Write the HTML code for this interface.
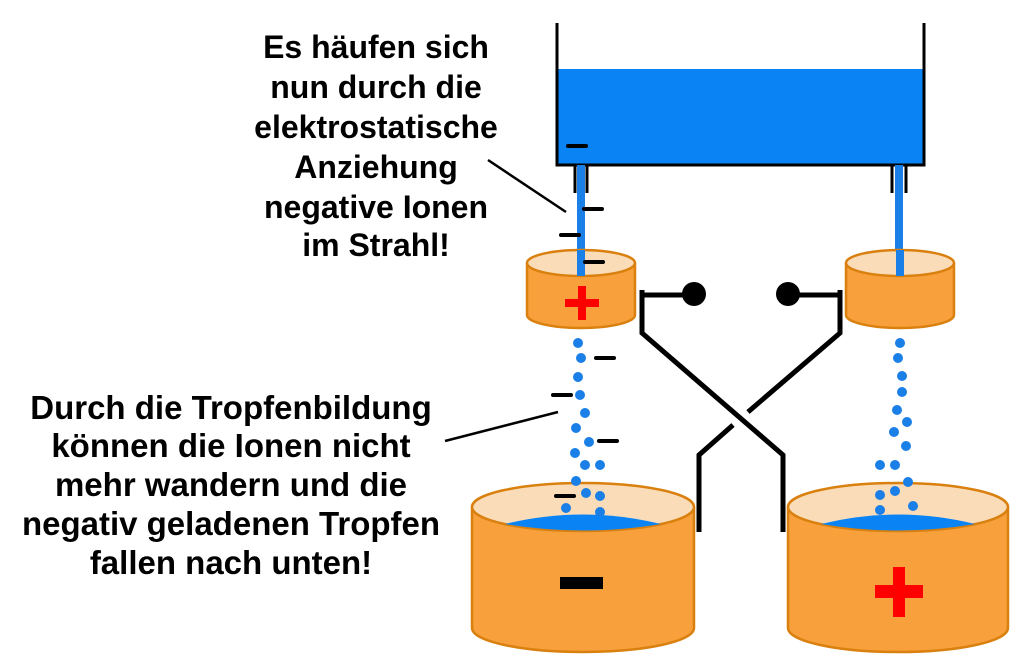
<!DOCTYPE html>
<html><head><meta charset="utf-8"><style>
html,body{margin:0;padding:0;background:#fff;}
svg{display:block}
text{font-family:"Liberation Sans",Arial,sans-serif;font-weight:bold;fill:#000;text-anchor:middle}
.t{font-size:32px}
.b{font-size:33px}
</style></head><body>
<svg width="1024" height="669" viewBox="0 0 1024 669">
<rect width="1024" height="669" fill="#fff"/>
<rect x="558" y="69" width="365" height="96" fill="#0a84f5"/>
<path d="M557 23 V165 H924 V23" fill="none" stroke="#000" stroke-width="3"/>
<line x1="575" y1="165" x2="575" y2="193" stroke="#000" stroke-width="3"/>
<line x1="587" y1="165" x2="587" y2="193" stroke="#000" stroke-width="3"/>
<line x1="892" y1="165" x2="892" y2="193" stroke="#000" stroke-width="3"/>
<line x1="906" y1="165" x2="906" y2="193" stroke="#000" stroke-width="3"/>
<rect x="577" y="165" width="8" height="112" fill="#1a7fe6"/>
<rect x="895" y="165" width="8" height="112" fill="#1a7fe6"/>
<g stroke="#d9800f" stroke-width="2.5">
<path d="M527 263 V315 A54 13 0 0 0 635 315 V263" fill="#f8a13c"/>
<ellipse cx="581" cy="263" rx="54" ry="13" fill="#fbdcb8"/>
<path d="M846 263 V315 A54 13 0 0 0 954 315 V263" fill="#f8a13c"/>
<ellipse cx="900" cy="263" rx="54" ry="13" fill="#fbdcb8"/>
</g>
<rect x="577" y="250" width="8" height="26" fill="#1a7fe6"/>
<rect x="896" y="250" width="8" height="26" fill="#1a7fe6"/>
<rect x="565" y="299" width="34" height="8" fill="#f00"/>
<rect x="578" y="286" width="8" height="34" fill="#f00"/>
<g fill="none" stroke="#000" stroke-width="5">
<path d="M642 290 V333 L783 455 V532"/>
<path d="M640 295 H693"/>
<path d="M840 290 V333 L748 412"/>
<path d="M733 425 L699 455 V532"/>
<path d="M841 295 H788"/>
</g>
<circle cx="694" cy="294" r="12"/>
<circle cx="788" cy="294" r="12"/>
<g stroke="#d9800f" stroke-width="2.5">
<path d="M472 507 V628 A111 24 0 0 0 694 628 V507" fill="#f8a13c"/>
<ellipse cx="583" cy="507" rx="111" ry="24" fill="#fbdcb8"/>
<path d="M788 507 V628 A110 24 0 0 0 1008 628 V507" fill="#f8a13c"/>
<ellipse cx="898" cy="507" rx="110" ry="24" fill="#fbdcb8"/>
</g>
<path d="M505 524 Q583 505 661 524 Q583 537 505 524Z" fill="#0a84f5"/>
<path d="M821 524 Q898 505 975 524 Q898 537 821 524Z" fill="#0a84f5"/>
<rect x="560" y="577" width="43" height="12" fill="#000"/>
<rect x="875" y="585" width="48" height="13" fill="#f00"/>
<rect x="893" y="567" width="12" height="50" fill="#f00"/>
<g fill="#1a7fe6">
<circle cx="578" cy="343" r="5"/><circle cx="581" cy="358" r="5"/><circle cx="578" cy="377" r="5"/><circle cx="580" cy="395" r="5"/><circle cx="585" cy="413" r="5"/><circle cx="576" cy="428" r="5"/><circle cx="589" cy="442" r="5"/><circle cx="575" cy="453" r="5"/><circle cx="585" cy="465" r="5"/><circle cx="600" cy="465" r="5"/><circle cx="576" cy="481" r="5"/><circle cx="586" cy="493" r="5"/><circle cx="600" cy="496" r="5"/><circle cx="566" cy="508" r="5"/><circle cx="600" cy="512" r="5"/>
<circle cx="900" cy="343" r="5"/><circle cx="898" cy="358" r="5"/><circle cx="902" cy="376" r="5"/><circle cx="902" cy="392" r="5"/><circle cx="897" cy="410" r="5"/><circle cx="907" cy="422" r="5"/><circle cx="894" cy="432" r="5"/><circle cx="906" cy="446" r="5"/><circle cx="880" cy="465" r="5"/><circle cx="895" cy="465" r="5"/><circle cx="908" cy="482" r="5"/><circle cx="880" cy="495" r="5"/><circle cx="895" cy="491" r="5"/><circle cx="913" cy="506" r="5"/><circle cx="880" cy="510" r="5"/>
</g>
<g stroke="#000" stroke-width="4" stroke-linecap="round">
<line x1="568" y1="146" x2="586" y2="146"/>
<line x1="584" y1="209" x2="602" y2="209"/>
<line x1="561" y1="235" x2="579" y2="235"/>
<line x1="585" y1="262" x2="603" y2="262"/>
<line x1="596" y1="358" x2="614" y2="358"/>
<line x1="553" y1="395" x2="571" y2="395"/>
<line x1="599" y1="441" x2="617" y2="441"/>
<line x1="556" y1="496" x2="574" y2="496"/>
</g>
<line x1="488" y1="160" x2="566" y2="212" stroke="#000" stroke-width="2.5"/>
<line x1="445" y1="441" x2="558" y2="412" stroke="#000" stroke-width="2.5"/>
<text class="t" x="376" y="58">Es häufen sich</text>
<text class="t" x="376" y="98">nun durch die</text>
<text class="t" x="376" y="138">elektrostatische</text>
<text class="t" x="376" y="178">Anziehung</text>
<text class="t" x="376" y="218">negative Ionen</text>
<text class="t" x="376" y="256">im Strahl!</text>
<text class="b" x="231" y="419">Durch die Tropfenbildung</text>
<text class="b" x="231" y="457">können die Ionen nicht</text>
<text class="b" x="231" y="496">mehr wandern und die</text>
<text class="b" x="231" y="535">negativ geladenen Tropfen</text>
<text class="b" x="231" y="574">fallen nach unten!</text>
</svg>
</body></html>
